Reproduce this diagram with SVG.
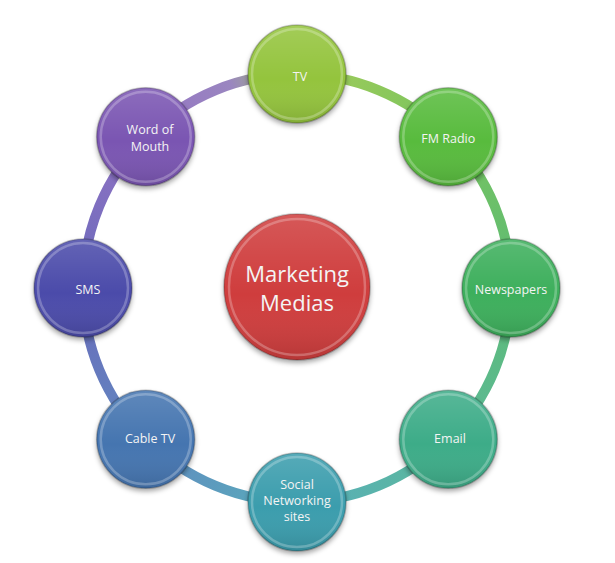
<svg xmlns="http://www.w3.org/2000/svg" width="615" height="563" viewBox="0 0 615 563">
<defs>
<filter id="sh" x="-30%" y="-30%" width="160%" height="170%">
<feDropShadow dx="0" dy="3" stdDeviation="2.5" flood-color="#000" flood-opacity="0.35"/>
</filter>
<linearGradient id="shade" x1="0" y1="0" x2="0" y2="1">
<stop offset="0" stop-color="#fff" stop-opacity="0.14"/>
<stop offset="0.55" stop-color="#fff" stop-opacity="0"/>
<stop offset="1" stop-color="#000" stop-opacity="0.12"/>
</linearGradient>
<linearGradient id="r1" gradientUnits="userSpaceOnUse" x1="297" y1="74" x2="448" y2="137"><stop offset="0" stop-color="#a3cc5a"/><stop offset="1" stop-color="#78c45e"/></linearGradient>
<linearGradient id="r2" gradientUnits="userSpaceOnUse" x1="448" y1="137" x2="511" y2="288"><stop offset="0" stop-color="#78c45e"/><stop offset="1" stop-color="#5dbb76"/></linearGradient>
<linearGradient id="r3" gradientUnits="userSpaceOnUse" x1="511" y1="288" x2="448" y2="439"><stop offset="0" stop-color="#5dbb76"/><stop offset="1" stop-color="#5cb999"/></linearGradient>
<linearGradient id="r4" gradientUnits="userSpaceOnUse" x1="448" y1="439" x2="297" y2="502"><stop offset="0" stop-color="#5cb999"/><stop offset="1" stop-color="#58aebb"/></linearGradient>
<linearGradient id="r5" gradientUnits="userSpaceOnUse" x1="297" y1="502" x2="146" y2="439"><stop offset="0" stop-color="#58aebb"/><stop offset="1" stop-color="#6189c0"/></linearGradient>
<linearGradient id="r6" gradientUnits="userSpaceOnUse" x1="146" y1="439" x2="83" y2="288"><stop offset="0" stop-color="#6189c0"/><stop offset="1" stop-color="#6a6abb"/></linearGradient>
<linearGradient id="r7" gradientUnits="userSpaceOnUse" x1="83" y1="288" x2="146" y2="137"><stop offset="0" stop-color="#6a6abb"/><stop offset="1" stop-color="#9373c4"/></linearGradient>
<linearGradient id="r8" gradientUnits="userSpaceOnUse" x1="146" y1="137" x2="297" y2="74"><stop offset="0" stop-color="#9373c4"/><stop offset="0.6" stop-color="#9a86c0"/><stop offset="1" stop-color="#a3cc5a"/></linearGradient>
</defs>
<style>
.ring path{fill:none;stroke-width:10}
.base{filter:url(#sh);stroke:#000;stroke-opacity:0.22;stroke-width:1.5}
.bevel{fill:none;stroke:#fff;stroke-opacity:0.25;stroke-width:2.5}
.ov{fill:url(#shade)}
.lbl{font-family:"Open Sans","Liberation Sans",sans-serif;font-size:12.5px;fill:#f4f4f4;text-anchor:middle}
.big{font-size:22px}
</style>
<rect width="615" height="563" fill="#fff"/>
<g id="connectors" class="ring">
<path d="M297,74 A214,214 0 0 1 448.3,136.7" stroke="url(#r1)"/>
<path d="M448.3,136.7 A214,214 0 0 1 511,288" stroke="url(#r2)"/>
<path d="M511,288 A214,214 0 0 1 448.3,439.3" stroke="url(#r3)"/>
<path d="M448.3,439.3 A214,214 0 0 1 297,502" stroke="url(#r4)"/>
<path d="M297,502 A214,214 0 0 1 145.7,439.3" stroke="url(#r5)"/>
<path d="M145.7,439.3 A214,214 0 0 1 83,288" stroke="url(#r6)"/>
<path d="M83,288 A214,214 0 0 1 145.7,136.7" stroke="url(#r7)"/>
<path d="M145.7,136.7 A214,214 0 0 1 297,74" stroke="url(#r8)"/>
</g>
<g id="center">
<circle class="base" cx="297" cy="287" r="73" fill="#cf3d3d"/>
<circle class="ov" cx="297" cy="287" r="73"/>
<circle class="bevel" cx="297" cy="287" r="68"/>
<text class="lbl big" x="297" y="282">Marketing</text>
<text class="lbl big" x="297" y="311">Medias</text>
</g>
<g id="tv">
<circle class="base" cx="297" cy="74" r="49" fill="#94c43c"/>
<circle class="ov" cx="297" cy="74" r="49"/>
<circle class="bevel" cx="297" cy="74" r="45"/>
<text class="lbl" x="300" y="81">TV</text>
</g>
<g id="fm-radio">
<circle class="base" cx="448.3" cy="136.7" r="49" fill="#58bb3e"/>
<circle class="ov" cx="448.3" cy="136.7" r="49"/>
<circle class="bevel" cx="448.3" cy="136.7" r="45"/>
<text class="lbl" x="448.3" y="143">FM Radio</text>
</g>
<g id="newspapers">
<circle class="base" cx="511" cy="288" r="49" fill="#3daf5c"/>
<circle class="ov" cx="511" cy="288" r="49"/>
<circle class="bevel" cx="511" cy="288" r="45"/>
<text class="lbl" x="511" y="294">Newspapers</text>
</g>
<g id="email">
<circle class="base" cx="448.3" cy="439.3" r="49" fill="#3eac88"/>
<circle class="ov" cx="448.3" cy="439.3" r="49"/>
<circle class="bevel" cx="448.3" cy="439.3" r="45"/>
<text class="lbl" x="450" y="443">Email</text>
</g>
<g id="social">
<circle class="base" cx="297" cy="502" r="49" fill="#3a9dad"/>
<circle class="ov" cx="297" cy="502" r="49"/>
<circle class="bevel" cx="297" cy="502" r="45"/>
<text class="lbl" x="297" y="489">Social</text>
<text class="lbl" x="297" y="505">Networking</text>
<text class="lbl" x="297" y="521">sites</text>
</g>
<g id="cable-tv">
<circle class="base" cx="145.7" cy="439.3" r="49" fill="#4474b0"/>
<circle class="ov" cx="145.7" cy="439.3" r="49"/>
<circle class="bevel" cx="145.7" cy="439.3" r="45"/>
<text class="lbl" x="150" y="443">Cable TV</text>
</g>
<g id="sms">
<circle class="base" cx="83" cy="288" r="49" fill="#4c4caa"/>
<circle class="ov" cx="83" cy="288" r="49"/>
<circle class="bevel" cx="83" cy="288" r="45"/>
<text class="lbl" x="88" y="294">SMS</text>
</g>
<g id="word-of-mouth">
<circle class="base" cx="145.7" cy="136.7" r="49" fill="#7a55b2"/>
<circle class="ov" cx="145.7" cy="136.7" r="49"/>
<circle class="bevel" cx="145.7" cy="136.7" r="45"/>
<text class="lbl" x="150" y="134">Word of</text>
<text class="lbl" x="150" y="151">Mouth</text>
</g>
</svg>
